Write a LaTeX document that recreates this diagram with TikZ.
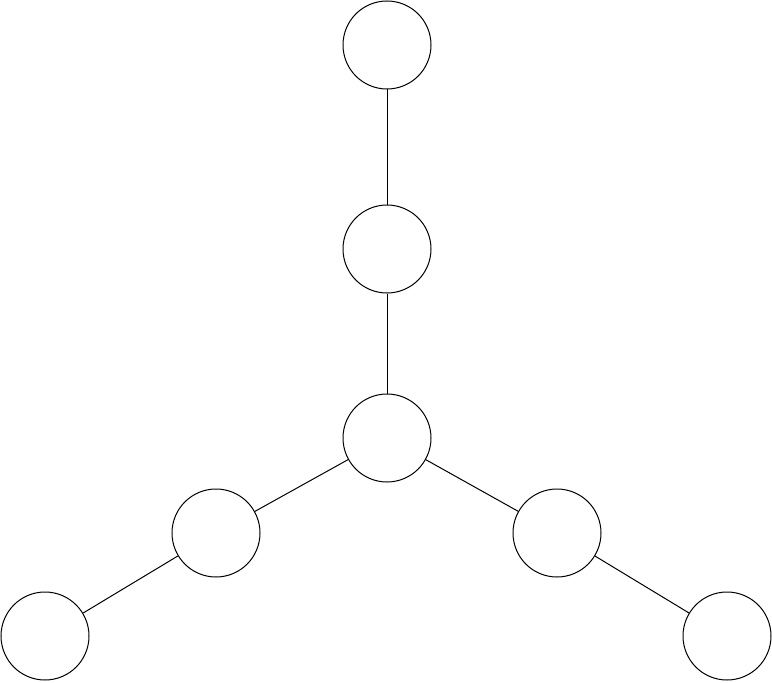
\documentclass[tikz,border=0pt]{standalone}
\usepackage{xcolor}
\usepackage{amsmath}
\usepackage{tikz}
\usetikzlibrary{calc}

\tikzset{vertex/.style={draw, circle, line width=0.020000cm, minimum size=1.760000cm, inner sep=0pt}}

\begin{document}
\begin{tikzpicture}
                        \useasboundingbox (0,0) rectangle (15.440000,13.640000);
                        {\footnotesize

                        % Drawing vertices
                        \node [vertex] (top) at (7.740000,12.740000) {};%
                        \node [vertex] (mid) at (7.740000,8.660000) {};%
                        \node [vertex] (hub) at (7.740000,4.880000) {};%
                        \node [vertex] (leftin) at (4.320000,2.980000) {};%
                        \node [vertex] (leftout) at (0.900000,0.920000) {};%
                        \node [vertex] (rightin) at (11.140000,2.980000) {};%
                        \node [vertex] (rightout) at (14.540000,0.920000) {};%

                        % Drawing edges
                        \draw [line width=0.020000cm] (top) -- (mid);%
                        \draw [line width=0.020000cm] (mid) -- (hub);%
                        \draw [line width=0.020000cm] (hub) -- (leftin);%
                        \draw [line width=0.020000cm] (leftin) -- (leftout);%
                        \draw [line width=0.020000cm] (hub) -- (rightin);%
                        \draw [line width=0.020000cm] (rightin) -- (rightout);%
                        }
                    \end{tikzpicture}
\end{document}
